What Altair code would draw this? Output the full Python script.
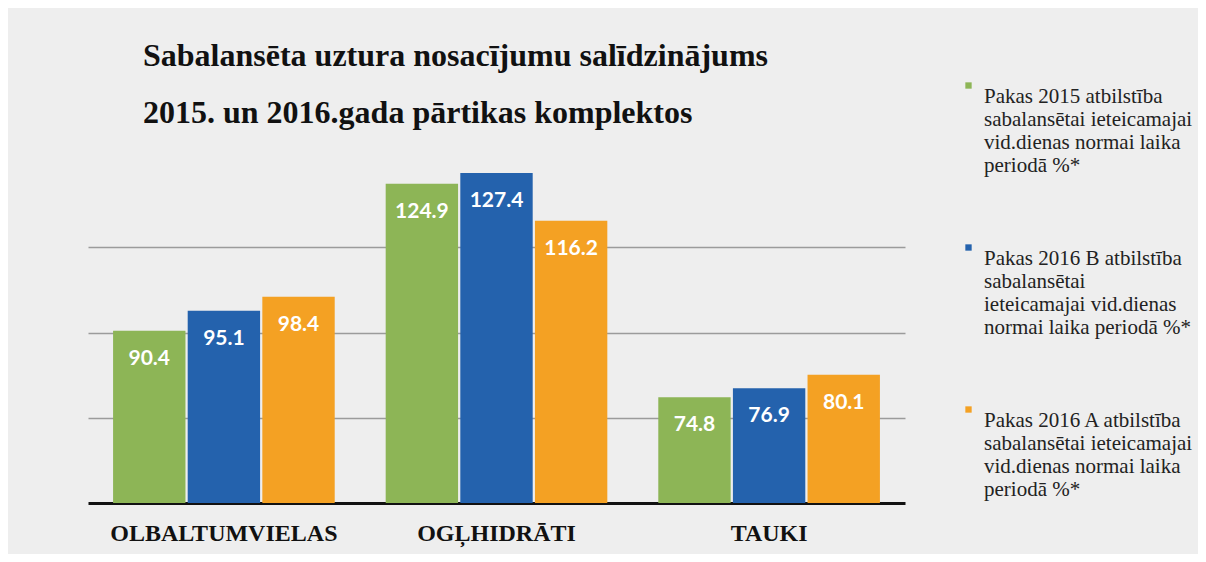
import altair as alt
import pandas as pd

categories = ["OLBALTUMVIELAS", "OGĻHIDRĀTI", "TAUKI"]
series = [
    "Pakas 2015 atbilstība|sabalansētai ieteicamajai|vid.dienas normai laika|periodā %*",
    "Pakas 2016 B  atbilstība|sabalansētai|ieteicamajai vid.dienas|normai laika periodā %*",
    "Pakas 2016 A atbilstība|sabalansētai ieteicamajai|vid.dienas normai laika|periodā %*",
]
values_2015 = [90.4, 124.9, 74.8]
values_2016B = [95.1, 127.4, 76.9]
values_2016A = [98.4, 116.2, 80.1]
colors = ["#8db556", "#2462ad", "#f4a123"]
title_lines = ["Sabalansēta uztura nosacījumu salīdzinājums",
               "2015. un 2016.gada pārtikas komplektos"]

rows = []
for s, vals in zip(series, [values_2015, values_2016B, values_2016A]):
    for c, v in zip(categories, vals):
        rows.append({"category": c, "series": s, "value": v})
df = pd.DataFrame(rows)

yscale = alt.Scale(domain=[50, 130], nice=False, zero=False)

base = alt.Chart(df).encode(
    x=alt.X("category:N", sort=categories,
            scale=alt.Scale(paddingInner=0.187, paddingOuter=0.092),
            axis=alt.Axis(title=None, labelAngle=0, labelFont="Liberation Serif",
                          labelFontSize=24, labelFontWeight="bold", labelColor="#111",
                          labelLimit=400,
                          domainColor="#111", domainWidth=3, ticks=False,
                          labelPadding=18)),
    xOffset=alt.XOffset("series:N", sort=series, scale=alt.Scale(paddingInner=0.03)),
)

bars = base.mark_bar().encode(
    y=alt.Y("value:Q", scale=yscale,
            axis=alt.Axis(values=[70, 90, 110], grid=True, gridColor="#9b9b9b",
                          gridWidth=1.5, labels=False, ticks=False, domain=False,
                          title=None)),
    y2=alt.Y2Datum(50),
    color=alt.Color("series:N", scale=alt.Scale(domain=series, range=colors),
                    legend=alt.Legend(orient="none", legendX=870, legendY=-87,
                                      title=None,
                                      labelExpr="split(datum.label, '|')",
                                      labelFont="Liberation Serif", labelFontSize=21,
                                      labelColor="#222", labelLimit=300,
                                      symbolType="square", symbolSize=40,
                                      rowPadding=61, labelBaseline="top",
                                      labelOffset=5)),
)

labels = base.mark_text(dy=28, color="white", font="Lato", fontWeight="bold",
                        fontSize=21).encode(
    y=alt.Y("value:Q", scale=yscale),
    text=alt.Text("value:Q", format=".1f"),
)

chart = alt.layer(bars, labels).properties(
    width=817, height=341,
    title=alt.Title(title_lines, font="Liberation Serif", fontSize=32,
                    fontWeight="bold", color="#111", anchor="start", dx=55,
                    lineHeight=57, offset=0, dy=55, frame="group"),
    autosize=alt.AutoSizeParams(type="none"),
    padding={"left": 80, "top": 154, "right": 293, "bottom": 51},
    background="#eeeeee",
).configure_view(stroke=None)

chart.save("out.html", embed_options={"renderer": "svg", "actions": False})
